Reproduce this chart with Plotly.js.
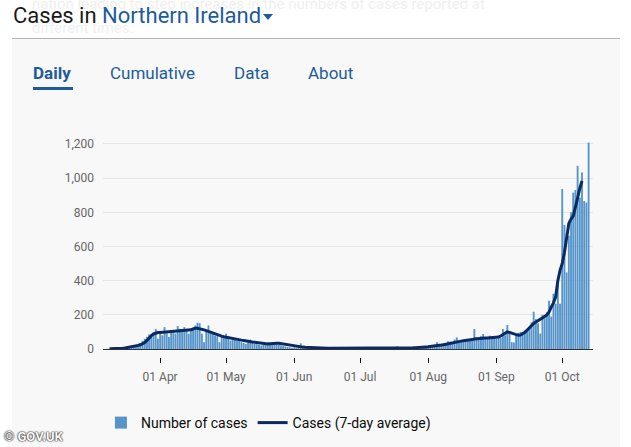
<!DOCTYPE html>
<html>
<head>
<meta charset="utf-8">
<script src="https://cdn.plot.ly/plotly-3.0.1.min.js"></script>
<style>
  html, body { margin:0; padding:0; background:#ffffff; width:631px; height:447px; overflow:hidden; }
  .abs { position:absolute; white-space:nowrap; }
  #ghost { left:32px; top:-8px; font:15px/24px Roboto, sans-serif; color:#efefef; }
  #title { left:13px; top:5px; font:22px/22px Roboto, sans-serif; color:#1a1a1a; }
  #title .blue { color:#1d5b9b; }
  #tri { left:263px; top:14px; width:0; height:0; border-left:5px solid transparent; border-right:5px solid transparent; border-top:6px solid #1d5b9b; }
  #panel { left:12px; top:38px; width:608px; height:409px; background:#f8f8f8; border-top:1px solid #b1b4b6; }
  .tab { top:63px; font:17px/20px Roboto, sans-serif; color:#1d5b9b; }
  #uline { left:33px; top:87px; width:40px; height:3px; background:#1d5b9b; }
  #plot { position:absolute; left:0; top:0; width:631px; height:447px; }
  #wm { left:4px; top:430px; font:bold 13px/14px Roboto, sans-serif; color:#ffffff; text-shadow:0 0 2px #000, 0 0 1px #000; }
</style>
</head>
<body>
<div id="panel" class="abs"></div>
<div id="ghost" class="abs">nation leading to step increases in the numbers of cases reported at<br>different times.</div>
<div id="title" class="abs">Cases in <span class="blue">Northern Ireland</span></div>
<div id="tri" class="abs"></div>
<div class="abs tab" style="left:33px;font-weight:bold;">Daily</div>
<div class="abs tab" style="left:110px;">Cumulative</div>
<div class="abs tab" style="left:234px;">Data</div>
<div class="abs tab" style="left:308px;">About</div>
<div id="uline" class="abs"></div>
<div id="plot"></div>
<div id="wm" class="abs">© GOV.UK</div>
<script>
// Daily cases by specimen date, starting 2020-03-07
const dailyStart = '2020-03-07';
const dailyCases = [
  0,2,1,3,4,6,5,8,10,
  10,12,15,18,22,20,28,35,48,60,
  72,85,80,85,118,60,
  98,80,128,93,70,98,108,90,134,118,
  100,128,108,89,108,118,138,153,151,90,
  40,108,138,98,89,79,75,40,79,70,
  89,60,50,62,55,48,50,40,35,30,
  38,55,35,30,28,25,20,26,28,22,
  30,32,28,30,25,20,18,15,12,10,8,
  10,8,12,33,6,5,8,6,4,5,
  7,5,3,4,6,5,3,2,4,5,
  3,2,3,4,2,3,5,3,2,4,
  3,4,2,5,3,2,6,4,3,5,
  4,8,3,5,4,6,7,16,5,6,
  4,7,5,10,6,8,9,12,10,14,18,
  15,12,20,25,40,22,28,35,30,45,
  43,38,55,68,50,45,48,52,50,58,
  48,117,70,62,75,88,60,70,78,65,72,
  60,75,65,117,80,140,90,40,38,85,
  95,100,88,107,100,130,156,218,175,150,
  90,200,180,214,283,190,323,265,400,265,
  936,726,448,663,800,915,930,1072,886,1033,866,857,1208
];
// 7-day average, starting 2020-03-09
const avgStart = '2020-03-09';
const avgCases = [
  1,1,2,2,3,4,5,6,8,10,12,14,17,21,
  25,30,38,50,65,78,88,94,96,
  96,97,98,98,99,100,100,101,102,103,
  104,105,106,108,112,117,122,121,119,116,
  112,108,103,97,92,87,82,78,75,72,
  69,67,64,62,59,57,55,52,50,47,
  45,43,41,40,38,36,34,32,31,30,
  31,33,34,34,33,31,28,25,22,19,17,
  15,14,13,12,11,10,9,8,7,6,
  6,5,5,5,4,4,4,4,4,3,
  3,3,3,3,3,3,3,3,3,3,
  3,3,3,3,3,3,4,4,4,4,
  4,5,5,5,5,6,6,7,7,7,
  7,7,7,7,7,8,8,9,10,11,12,
  13,14,16,18,20,22,23,25,28,31,
  35,38,40,42,44,46,48,49,50,52,
  55,58,60,62,63,64,64,65,66,66,67,
  67,70,76,84,92,100,97,92,87,83,
  80,82,88,98,110,125,140,150,158,165,
  172,180,190,200,217,245,270,305,400,460,
  500,565,650,735,760,778,830,895,940,983
];
const tickDates = ['2020-04-01','2020-05-01','2020-06-01','2020-07-01','2020-08-01','2020-09-01','2020-10-01'];
const tickLabels = ['01 Apr','01 May','01 Jun','01 Jul','01 Aug','01 Sep','01 Oct'];
const yTicks = [0,200,400,600,800,1000,1200];
const yTickLabels = ['0','200','400','600','800','1,000','1,200'];
const seriesNames = ['Number of cases','Cases (7-day average)'];

function dateList(start, n) {
  const out = [];
  const d0 = new Date(start + 'T00:00:00Z');
  for (let i = 0; i < n; i++) {
    const d = new Date(d0.getTime() + i * 86400000);
    out.push(d.toISOString().slice(0,10));
  }
  return out;
}

const font = 'Roboto, sans-serif';
const traces = [
  { type:'bar', x:dateList(dailyStart, dailyCases.length), y:dailyCases, name:seriesNames[0],
    marker:{color:'#5694ca', line:{width:0}}, hoverinfo:'skip' },
  { type:'scatter', mode:'lines', x:dateList(avgStart, avgCases.length), y:avgCases, name:seriesNames[1],
    line:{color:'#0b2a64', width:3}, hoverinfo:'skip' }
];
const layout = {
  width:631, height:447,
  margin:{l:103, r:38, t:139, b:90, pad:0, autoexpand:false},
  paper_bgcolor:'rgba(0,0,0,0)', plot_bgcolor:'rgba(0,0,0,0)',
  bargap:0.15,
  showlegend:true,
  legend:{orientation:'h', xref:'container', yref:'container', x:0.160, xanchor:'left', y:1 - 423/447, yanchor:'middle',
    font:{family:font, size:14, color:'#0b0c0c'}, bgcolor:'rgba(0,0,0,0)', traceorder:'normal'},
  xaxis:{type:'date', range:['2020-03-06','2020-10-15'], anchor:'free', position:0,
    tickvals:tickDates, ticktext:tickLabels, ticks:'outside', ticklen:5, tickwidth:1, tickcolor:'#0b0c0c',
    ticklabelstandoff:4,
    showgrid:false, showline:false, zeroline:false,
    tickfont:{family:font, size:12, color:'#666666'}},
  yaxis:{domain:[8/218, 1], range:[0, 1229], tickvals:yTicks, ticktext:yTickLabels,
    showgrid:true, gridcolor:'#e6e6e6', gridwidth:1,
    zeroline:true, zerolinecolor:'#333333', zerolinewidth:1,
    showline:false, ticks:'', ticklabelstandoff:8,
    tickfont:{family:font, size:12, color:'#666666'}}
};
Plotly.newPlot('plot', traces, layout, {staticPlot:true, displayModeBar:false});
</script>
</body>
</html>
